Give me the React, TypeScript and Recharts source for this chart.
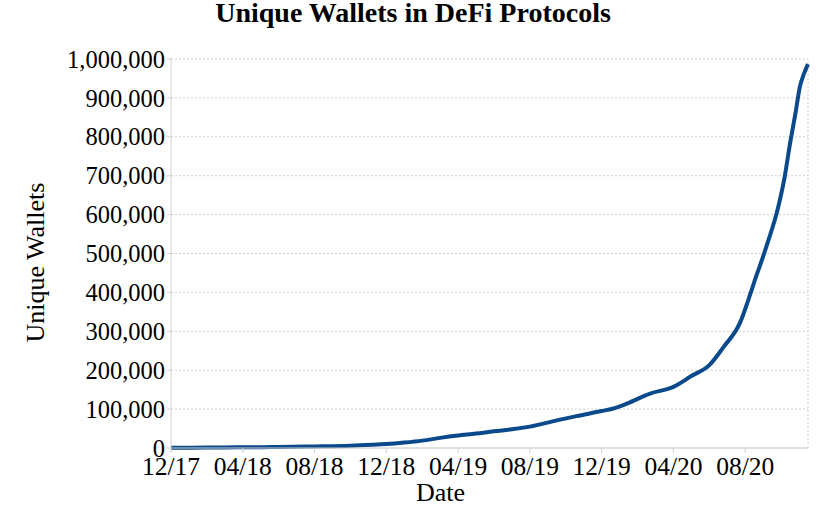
import { LineChart, Line, XAxis, YAxis, CartesianGrid, ReferenceLine } from 'recharts'

// months since Dec 2017 (fractional)
const months = [
  0, 2, 4, 6, 8, 10, 12, 13, 14, 15, 16, 17, 18, 19, 20, 21.5, 22.6, 24, 24.6, 25.4,
  26.7, 28, 29, 30, 30.8, 31.7, 32.3, 32.6, 32.9, 33.3, 33.8, 34.2, 34.5, 34.8, 35.05,
  35.25, 35.5,
]

const wallets = [
  500, 1000, 2000, 2500, 4000, 6000, 10000, 14000, 19000, 26000, 32000, 37000, 43000,
  48000, 55000, 71000, 82000, 95000, 101000, 114000, 140000, 157000, 185000, 213000,
  260000, 321000, 398000, 440000, 479000, 535000, 612000, 697000, 783000, 860000,
  929000, 959000, 987000,
]

const xTicks = [0, 4, 8, 12, 16, 20, 24, 28, 32]
const xTickLabels = ['12/17', '04/18', '08/18', '12/18', '04/19', '08/19', '12/19', '04/20', '08/20']
const yTicks = [0, 100000, 200000, 300000, 400000, 500000, 600000, 700000, 800000, 900000, 1000000]

const data = months.map((m, i) => ({ m, wallets: wallets[i] }))

const font = '"Liberation Serif", "Times New Roman", serif'

export default function App() {
  return (
    <div style={{ position: 'absolute', left: 0, top: 0, width: 830, height: 505, background: '#fff', fontFamily: font }}>
      <div
        style={{
          position: 'absolute',
          left: 0,
          top: 0,
          width: 826,
          textAlign: 'center',
          fontSize: 28,
          fontWeight: 'bold',
          lineHeight: '26px',
          color: '#000',
        }}
      >
        Unique Wallets in DeFi Protocols
      </div>
      <LineChart
        width={830}
        height={505}
        data={data}
        margin={{ top: 59, right: 22, left: 0, bottom: 0 }}
        style={{ fontFamily: font }}
      >
        <CartesianGrid horizontal vertical={false} stroke="#cfcfcf" strokeDasharray="2 2" />
        <ReferenceLine x={35.5} stroke="#cfcfcf" strokeDasharray="2 2" />
        <XAxis
          dataKey="m"
          type="number"
          domain={[0, 35.5]}
          ticks={xTicks}
          tickFormatter={(v) => xTickLabels[xTicks.indexOf(v)]}
          axisLine={{ stroke: '#d0d0d0' }}
          tickLine={{ stroke: '#d0d0d0' }}
          tickSize={5}
          tickMargin={4}
          tick={{ fill: '#000', fontSize: 25.5 }}
          height={57}
          label={{ value: 'Date', position: 'insideBottom', offset: 4, dx: -49, fill: '#000', fontSize: 26 }}
        />
        <YAxis
          type="number"
          domain={[0, 1000000]}
          ticks={yTicks}
          interval={0}
          tickFormatter={(v) => v.toLocaleString('en-US')}
          axisLine={{ stroke: '#d0d0d0' }}
          tickLine={{ stroke: '#d0d0d0' }}
          tickSize={4}
          tickMargin={2}
          tick={{ fill: '#000', fontSize: 24.5 }}
          width={171}
          label={{
            value: 'Unique Wallets',
            angle: -90,
            position: 'insideLeft',
            offset: 35,
            dy: 9,
            fill: '#000',
            fontSize: 26,
            style: { textAnchor: 'middle' },
          }}
        />
        <Line
          type="monotone"
          dataKey="wallets"
          stroke="#0a4a8c"
          strokeWidth={4}
          dot={false}
          isAnimationActive={false}
        />
      </LineChart>
    </div>
  )
}
